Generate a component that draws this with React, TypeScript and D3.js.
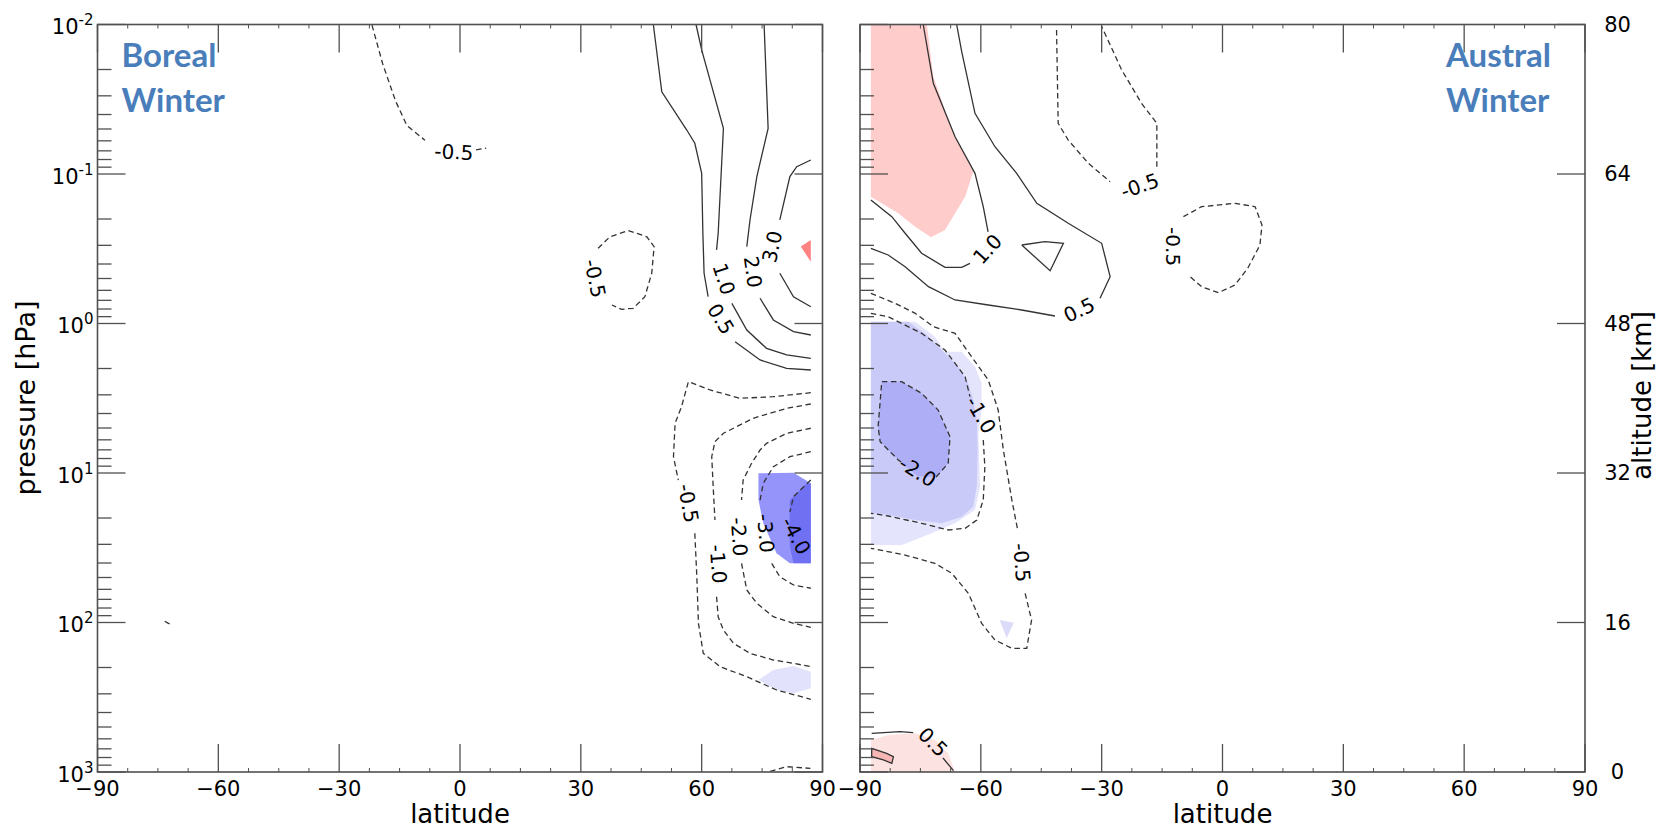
import React from 'react';
import * as d3 from 'd3';

type Pt = [number, number]; // [latitude in degrees, pressure in hPa]
type Label = [number, number, string, number]; // [lat, hPa, text, angle]

// ---------------- axes ----------------
const latitudeMajor = [-90, -60, -30, 0, 30, 60, 90];
const latitudeMinorStep = 7.5;
const pressureDecades = [0.01, 0.1, 1, 10, 100, 1000];
const pressureExponents = ['-2', '-1', '0', '1', '2', '3'];
const altitudeTicks = [80, 64, 48, 32, 16, 0];

// ---------------- Boreal winter (left panel) ----------------
const borealPos05a: Pt[] = [[48.0, 0.01], [50.1, 0.0282], [56.3, 0.0508], [58.3, 0.0623], [60.0, 0.099], [60.3, 0.249], [60.6, 0.4615], [61.6, 0.662]];
const borealPos05b: Pt[] = [[68.3, 1.323], [74.5, 1.754], [81.1, 1.994], [87.1, 2.047]];
const borealPos10a: Pt[] = [[58.6, 0.01], [60.0, 0.0148], [65.4, 0.0495], [64.1, 0.249], [63.7, 0.322]];
const borealPos10b: Pt[] = [[67.5, 0.733], [71.2, 1.105], [76.1, 1.466], [81.1, 1.624], [87.1, 1.709]];
const borealPos20a: Pt[] = [[75.5, 0.01], [76.5, 0.0495], [73.7, 0.104], [72.0, 0.203], [71.2, 0.306]];
const borealPos20b: Pt[] = [[74.5, 0.678], [77.8, 0.947], [82.8, 1.134], [87.1, 1.194]];
const borealPos30a: Pt[] = [[87.1, 0.0806], [83.6, 0.0894], [81.9, 0.104], [79.4, 0.203]];
const borealPos30b: Pt[] = [[79.4, 0.4615], [82.8, 0.662], [87.1, 0.772]];
const borealNeg05top: Pt[] = [[-21.85, 0.0101], [-19.2, 0.0183], [-16.0, 0.0325], [-13.2, 0.0473], [-8.7, 0.0595]];
const borealNeg05topTail: Pt[] = [[4.0, 0.0690], [6.5, 0.0672]];
const borealNeg05loop: Pt[] = [[34.3, 0.314], [37.2, 0.263], [41.8, 0.239], [46.4, 0.263], [48.2, 0.306], [47.6, 0.4615], [45.9, 0.662], [43.0, 0.791], [40.1, 0.8035], [37.7, 0.752]];
const borealNeg05a: Pt[] = [[87.1, 2.904], [77.8, 3.088], [69.5, 3.165], [62.1, 2.785], [56.7, 2.451], [55.0, 3.602], [53.4, 4.653], [53.0, 7.78], [54.2, 11.14]];
const borealNeg05b: Pt[] = [[58.3, 25.3], [58.8, 49.4], [59.2, 101.3], [60.4, 160.7], [64.6, 197.6], [71.2, 230.4], [78.6, 282.8], [87.1, 326.4]];
const borealNeg10a: Pt[] = [[87.1, 3.455], [81.1, 3.692], [72.8, 4.306], [65.4, 5.425], [63.3, 6.175], [62.5, 7.78], [62.9, 13.0], [63.3, 20.6]];
const borealNeg10b: Pt[] = [[63.7, 67.2], [64.1, 91.5], [65.4, 112.3], [67.9, 137.8], [72.0, 160.7], [77.8, 178.2], [82.8, 187.5], [87.1, 197.6]];
const borealNeg20a: Pt[] = [[87.1, 5.02], [81.1, 5.43], [76.1, 6.33], [74.5, 7.02], [72.4, 8.61], [70.3, 11.14], [69.9, 15.16]];
const borealNeg20b: Pt[] = [[69.9, 40.2], [71.2, 60.6], [73.7, 74.4], [77.8, 91.5], [82.8, 101.3], [87.1, 107.7]];
const borealNeg30a: Pt[] = [[87.1, 7.2], [81.9, 7.78], [77.8, 9.08], [75.3, 11.72], [74.5, 15.16]];
const borealNeg30b: Pt[] = [[77.4, 40.2], [79.4, 49.4], [82.8, 56.1], [87.1, 59.0]];
const borealNeg40: Pt[] = [[87.1, 11.14], [82.8, 14.4], [81.9, 18.24]];
const borealNeg05arc: Pt[] = [[77.0, 990], [81.1, 921.6], [87.0, 945]];
const borealNeg05speck: Pt[] = [[-73.3, 98], [-72.5, 101], [-71.3, 104]];

const borealFillRed: Pt[] = [[84.6, 0.306], [87.1, 0.276], [87.1, 0.386]];
const borealFillBlueMid: Pt[] = [[74.1, 10.05], [82.8, 9.95], [87.1, 11.72], [87.1, 40.2], [81.9, 40.2], [78.6, 34.4], [75.3, 21.7], [74.1, 15.16]];
const borealFillBlueDark: Pt[] = [[81.9, 15.16], [86.1, 11.72], [87.1, 11.72], [87.1, 40.2], [82.8, 40.2], [81.9, 31.1], [81.8, 21.7]];
const borealFillBlueLight: Pt[] = [[74.1, 242.4], [77.8, 207.8], [82.8, 195.4], [87.1, 213.4], [87.1, 275.5], [82.8, 297.6], [78.6, 282.8]];

const borealLabels: Label[] = [
  [64.75, 0.933, '0.5', 59], [65.5, 0.504, '1.0', 72], [72.7, 0.452, '2.0', 82], [77.5, 0.306, '3.0', -78],
  [-1.5, 0.0713, '-0.5', 3], [33.5, 0.4985, '-0.5', 78], [56.7, 15.95, '-0.5', 80], [64.1, 40.6, '-1.0', 86],
  [69.3, 26.7, '-2.0', 86], [75.9, 25.3, '-3.0', 86], [83.4, 26.3, '-4.0', 62],
];

// ---------------- Austral winter (right panel) ----------------
const australPos10a: Pt[] = [[-74.3, 0.01], [-71.8, 0.0247], [-66.4, 0.0563], [-61.45, 0.099], [-59.4, 0.1655], [-58.2, 0.244]];
const australPos10b: Pt[] = [[-62.7, 0.396], [-64.75, 0.421], [-68.9, 0.421], [-74.7, 0.339], [-78.8, 0.249], [-82.1, 0.193], [-87.3, 0.149]];
const australPos05a: Pt[] = [[-66.0, 0.01], [-64.75, 0.0152], [-61.45, 0.0393], [-56.5, 0.0657], [-51.1, 0.099], [-46.1, 0.157], [-38.3, 0.2137], [-30.0, 0.2908], [-27.9, 0.4864], [-30.4, 0.678]];
const australPos05b: Pt[] = [[-41.6, 0.891], [-49.85, 0.8124], [-58.15, 0.752], [-66.4, 0.696], [-73.0, 0.5674], [-78.8, 0.4169], [-83.0, 0.3482], [-87.3, 0.3141]];
const australPosTriangle: Pt[] = [[-49.85, 0.2985], [-44.1, 0.2836], [-39.5, 0.2908], [-42.8, 0.4436], [-49.85, 0.2985]];
const australNeg05upA: Pt[] = [[-41.2, 0.0109], [-40.8, 0.0458], [-38.3, 0.0593], [-33.3, 0.0848], [-27.9, 0.1126]];
const australNeg05upB: Pt[] = [[-16.3, 0.0894], [-16.3, 0.0458], [-20.1, 0.0337], [-25.0, 0.0202], [-30.0, 0.0103]];
const australNeg05loop: Pt[] = [[-9.7, 0.193], [-5.2, 0.1655], [3.1, 0.157], [8.1, 0.1655], [9.8, 0.2193], [9.3, 0.2985], [6.3, 0.4254], [3.1, 0.5528], [-1.0, 0.6223], [-5.2, 0.5674], [-8.5, 0.4737]];
const australNeg05a: Pt[] = [[-87.3, 0.628], [-81.3, 0.7326], [-76.3, 0.855], [-71.8, 1.05], [-66.4, 1.163], [-62.3, 1.668], [-58.15, 2.388], [-55.7, 3.79], [-54.4, 7.02], [-52.3, 15.16], [-50.85, 24.06]];
const australNeg05b: Pt[] = [[-49.0, 63.8], [-47.4, 96.2], [-48.6, 148.8], [-52.3, 148.8], [-56.5, 130.9], [-59.8, 101.3], [-63.1, 63.8], [-67.2, 46.9], [-71.4, 40.2], [-78.8, 35.4], [-87.3, 31.9]];
const australNeg10a: Pt[] = [[-87.3, 0.855], [-83.0, 0.9005], [-74.7, 1.163], [-68.9, 1.504], [-63.9, 2.269], [-62.7, 3.088]];
const australNeg10b: Pt[] = [[-59.4, 6.017], [-59.0, 9.08], [-59.4, 15.16], [-61.0, 20.63], [-63.9, 23.44], [-68.1, 24.06], [-74.7, 21.7], [-83.0, 19.39], [-87.3, 18.6]];
const australNeg20: Pt[] = [[-71.1, 10.64], [-68.1, 8.61], [-67.65, 5.72], [-70.6, 3.79], [-74.7, 2.931], [-79.65, 2.451], [-84.6, 2.451], [-85.5, 4.901], [-85.0, 6.175], [-80.5, 8.185], [-79.8, 8.44]];
const australPos05lowA: Pt[] = [[-87.1, 551], [-80.1, 537.6], [-76.8, 546]];
const australPos05lowB: Pt[] = [[-69.4, 806], [-66.8, 980]];
const australPosBlob: Pt[] = [[-87.1, 694], [-83.4, 750], [-81.7, 790], [-82.1, 875], [-84.2, 831], [-87.1, 790]];

const australFillPink: Pt[] = [[-87.3, 0.01], [-73.4, 0.01], [-71.8, 0.0223], [-67.2, 0.0508], [-61.9, 0.0965], [-63.9, 0.1418], [-68.9, 0.2369], [-72.4, 0.2651], [-76.3, 0.2251], [-80.5, 0.1832], [-87.3, 0.1418]];
const australFillBlueLight: Pt[] = [[-87.3, 0.973], [-76.3, 0.973], [-71.4, 1.226], [-68.9, 1.544], [-64.75, 1.544], [-61.45, 1.945], [-59.8, 2.512], [-59.8, 3.79], [-60.6, 5.425], [-60.2, 12.35], [-61.45, 17.68], [-66.4, 21.7], [-72.2, 25.31], [-79.65, 30.3], [-87.3, 30.3]];
const australFillBlueMid: Pt[] = [[-87.3, 0.973], [-78.0, 0.973], [-73.4, 1.194], [-69.7, 1.504], [-65.6, 1.945], [-63.1, 2.512], [-61.9, 3.249], [-61.0, 4.422], [-60.8, 7.02], [-61.0, 12.35], [-61.9, 16.8], [-64.75, 19.6], [-69.7, 21.7], [-76.3, 20.63], [-83.0, 19.1], [-87.3, 18.6]];
const australFillBlueDark: Pt[] = [[-84.6, 2.451], [-79.65, 2.451], [-74.7, 2.931], [-70.6, 3.79], [-67.65, 5.72], [-68.1, 8.61], [-71.1, 10.64], [-75.7, 10.5], [-80.5, 8.185], [-85.0, 6.175], [-85.5, 4.901]];
const australFillBlueSpeck: Pt[] = [[-55.3, 96.2], [-51.8, 100.3], [-53.6, 127.5]];
const australFillPinkLow: Pt[] = [[-87.3, 611], [-83.0, 565], [-76.3, 551], [-71.4, 611], [-68.1, 750], [-66.4, 1000], [-87.3, 1000]];
const australFillPinkBlob: Pt[] = australPosBlob;

const australLabels: Label[] = [
  [-58.35, 0.318, '1.0', -48], [-35.6, 0.812, '0.5', -25], [-20.5, 0.12, '-0.5', -19], [-12.2, 0.306, '-0.5', 90],
  [-60.0, 4.09, '-1.0', 60], [-75.7, 9.8, '-2.0', 32], [-49.85, 39.7, '-0.5', 85], [-71.9, 630, '0.5', 45],
];

// ---------------- assembly ----------------
type Line = { pts: Pt[]; dashed: boolean; closed?: boolean };
type Fill = { pts: Pt[]; color: string };

const borealLines: Line[] = [
  { pts: borealPos05a, dashed: false }, { pts: borealPos05b, dashed: false },
  { pts: borealPos10a, dashed: false }, { pts: borealPos10b, dashed: false },
  { pts: borealPos20a, dashed: false }, { pts: borealPos20b, dashed: false },
  { pts: borealPos30a, dashed: false }, { pts: borealPos30b, dashed: false },
  { pts: borealNeg05top, dashed: true }, { pts: borealNeg05topTail, dashed: true },
  { pts: borealNeg05loop, dashed: true },
  { pts: borealNeg05a, dashed: true }, { pts: borealNeg05b, dashed: true },
  { pts: borealNeg10a, dashed: true }, { pts: borealNeg10b, dashed: true },
  { pts: borealNeg20a, dashed: true }, { pts: borealNeg20b, dashed: true },
  { pts: borealNeg30a, dashed: true }, { pts: borealNeg30b, dashed: true },
  { pts: borealNeg40, dashed: true }, { pts: borealNeg05arc, dashed: true },
  { pts: borealNeg05speck, dashed: true },
];
const borealFills: Fill[] = [
  { pts: borealFillRed, color: '#ff8282' },
  { pts: borealFillBlueMid, color: '#9494fa' },
  { pts: borealFillBlueDark, color: '#7070f2' },
  { pts: borealFillBlueLight, color: '#e2e2fd' },
];
const australLines: Line[] = [
  { pts: australPos10a, dashed: false }, { pts: australPos10b, dashed: false },
  { pts: australPos05a, dashed: false }, { pts: australPos05b, dashed: false },
  { pts: australPosTriangle, dashed: false },
  { pts: australNeg05upA, dashed: true }, { pts: australNeg05upB, dashed: true },
  { pts: australNeg05loop, dashed: true },
  { pts: australNeg05a, dashed: true }, { pts: australNeg05b, dashed: true },
  { pts: australNeg10a, dashed: true }, { pts: australNeg10b, dashed: true },
  { pts: australNeg20, dashed: true },
  { pts: australPos05lowA, dashed: false }, { pts: australPos05lowB, dashed: false },
  { pts: australPosBlob, dashed: false, closed: true },
];
const australFills: Fill[] = [
  { pts: australFillPink, color: '#ffcccc' },
  { pts: australFillBlueLight, color: '#e4e4fc' },
  { pts: australFillBlueMid, color: '#cacaf8' },
  { pts: australFillBlueDark, color: '#aeaef6' },
  { pts: australFillBlueSpeck, color: '#dcdcfa' },
  { pts: australFillPinkLow, color: '#fde2e2' },
  { pts: australFillPinkBlob, color: '#f6b6b6' },
];

const W = 1667;
const H = 830;
const TOP = 24.5;
const BOTTOM = 772;
const FONT = 'DejaVu Sans, sans-serif';
const AXIS = '#505050';
const LINE = '#333333';

const yScale = d3.scaleLog().domain([0.01, 1000]).range([TOP, BOTTOM]);
const altScale = d3.scaleLinear().domain([0, 80]).range([BOTTOM, TOP]);

type PanelProps = {
  x0: number; x1: number; lines: Line[]; fills: Fill[]; labels: Label[];
  showPressureLabels: boolean; showAltitude: boolean;
  title: string[]; titleX: number;
};

function Panel(p: PanelProps) {
  const xScale = d3.scaleLinear().domain([-90, 90]).range([p.x0, p.x1]);
  const line = d3.line<Pt>().x((d) => xScale(d[0])).y((d) => yScale(d[1]));
  const closedLine = d3.line<Pt>().x((d) => xScale(d[0])).y((d) => yScale(d[1])).curve(d3.curveLinearClosed);
  const minorLat = d3.range(-90, 90.001, latitudeMinorStep).filter((v) => !latitudeMajor.includes(v));
  const pTicks = yScale.ticks();
  const isDecade = (v: number) => Math.abs(Math.log10(v) - Math.round(Math.log10(v))) < 1e-6;
  const clipId = `clip${Math.round(p.x0)}`;
  return (
    <g>
      <defs>
        <clipPath id={clipId}>
          <rect x={p.x0} y={TOP} width={p.x1 - p.x0} height={BOTTOM - TOP} />
        </clipPath>
      </defs>
      <g clipPath={`url(#${clipId})`}>
        {p.fills.map((f, i) => (
          <path key={i} d={closedLine(f.pts) || ''} fill={f.color} stroke="none" />
        ))}
        {p.lines.map((l, i) => (
          <path key={i} d={(l.closed ? closedLine(l.pts) : line(l.pts)) || ''} fill="none" stroke={LINE}
            strokeWidth={1.3} strokeDasharray={l.dashed ? '5.5,3.5' : undefined} />
        ))}
        {p.labels.map((lb, i) => (
          <text key={i} transform={`translate(${xScale(lb[0])},${yScale(lb[1])}) rotate(${lb[3]})`}
            textAnchor="middle" dominantBaseline="central" fontFamily={FONT} fontSize={20} fill="#000">{lb[2]}</text>
        ))}
      </g>
      {/* latitude ticks */}
      {latitudeMajor.map((v) => (
        <g key={`M${v}`}>
          <line x1={xScale(v)} x2={xScale(v)} y1={BOTTOM} y2={BOTTOM - 28} stroke={AXIS} strokeWidth={1.3} />
          <line x1={xScale(v)} x2={xScale(v)} y1={TOP} y2={TOP + 28} stroke={AXIS} strokeWidth={1.3} />
          <text x={xScale(v)} y={796} textAnchor="middle" fontFamily={FONT} fontSize={21} fill="#000">
            {v < 0 ? `\u2212${-v}` : `${v}`}
          </text>
        </g>
      ))}
      {minorLat.map((v) => (
        <g key={`m${v}`}>
          <line x1={xScale(v)} x2={xScale(v)} y1={BOTTOM} y2={BOTTOM - 4} stroke={AXIS} strokeWidth={1} />
          <line x1={xScale(v)} x2={xScale(v)} y1={TOP} y2={TOP + 4} stroke={AXIS} strokeWidth={1} />
        </g>
      ))}
      {/* pressure ticks on the left edge */}
      {pTicks.map((v, i) => (
        <line key={`p${i}`} x1={p.x0} x2={p.x0 + (isDecade(v) ? 28 : 14)} y1={yScale(v)} y2={yScale(v)}
          stroke={AXIS} strokeWidth={1.3} />
      ))}
      {p.showPressureLabels && pressureDecades.map((v, i) => (
        <text key={`pl${i}`} x={p.x0 - 4} y={yScale(v) + 9.5} textAnchor="end" fontFamily={FONT} fontSize={21} fill="#000">
          10<tspan fontSize={15} dy={-9}>{pressureExponents[i]}</tspan>
        </text>
      ))}
      {/* right edge ticks */}
      {!p.showAltitude && pressureDecades.map((v, i) => (
        <line key={`r${i}`} x1={p.x1} x2={p.x1 - 28} y1={yScale(v)} y2={yScale(v)} stroke={AXIS} strokeWidth={1.3} />
      ))}
      {p.showAltitude && altitudeTicks.map((v) => (
        <g key={`a${v}`}>
          <line x1={p.x1} x2={p.x1 - 28} y1={altScale(v)} y2={altScale(v)} stroke={AXIS} strokeWidth={1.3} />
          <text x={1617.5} y={altScale(v)} dominantBaseline="central" textAnchor="middle" fontFamily={FONT} fontSize={21} fill="#000">{v}</text>
        </g>
      ))}
      <rect x={p.x0} y={TOP} width={p.x1 - p.x0} height={BOTTOM - TOP} fill="none" stroke={AXIS} strokeWidth={1.6} />
      <text x={(p.x0 + p.x1) / 2} y={823} textAnchor="middle" fontFamily={FONT} fontSize={26} fill="#000">latitude</text>
      {p.title.map((t, i) => (
        <text key={t + i} x={p.titleX} y={67 + i * 45} fontFamily="Lato, sans-serif" fontWeight={700} fontSize={33} fill="#4a7ebb">{t}</text>
      ))}
    </g>
  );
}

export default function App() {
  return (
    <svg width={W} height={H} viewBox={`0 0 ${W} ${H}`} style={{ position: 'absolute', left: 0, top: 0, background: '#fff' }}>
      <rect x={0} y={0} width={W} height={H} fill="#fff" />
      <Panel x0={97.5} x1={822.5} lines={borealLines} fills={borealFills} labels={borealLabels}
        showPressureLabels={true} showAltitude={false} title={['Boreal', 'Winter']} titleX={121.5} />
      <Panel x0={860} x1={1585} lines={australLines} fills={australFills} labels={australLabels}
        showPressureLabels={false} showAltitude={true} title={['Austral', 'Winter']} titleX={1446} />
      <text transform="translate(35,398) rotate(-90)" textAnchor="middle" fontFamily={FONT} fontSize={27} fill="#000">pressure [hPa]</text>
      <text transform="translate(1651,395.5) rotate(-90)" textAnchor="middle" fontFamily={FONT} fontSize={26} fill="#000">altitude [km]</text>
    </svg>
  );
}
